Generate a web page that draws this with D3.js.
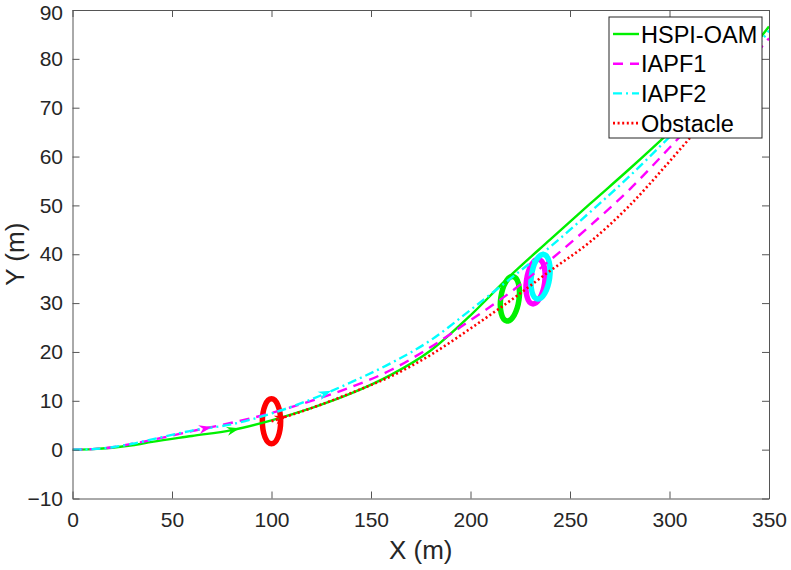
<!DOCTYPE html>
<html>
<head>
<meta charset="utf-8">
<script src="https://cdn.jsdelivr.net/npm/d3@7"></script>
<style>
  body { margin: 0; background: #fff; }
  svg { display: block; font-family: "Liberation Sans", Arial, Helvetica, sans-serif; }
</style>
</head>
<body>
<div id="chart"></div>
<script>
// sampled trajectories (x in m)
const xGrid = [0, 10, 20, 30, 40, 60, 80, 100, 120, 140, 160, 180, 200, 220, 240, 260, 280, 300, 320, 340, 350];
const hspiY = [0, 0.1, 0.4, 0.9, 1.6, 2.8, 4.0, 6.0, 8.5, 11.5, 15.3, 20.3, 27.5, 35.6, 43.0, 50.3, 57.5, 65.0, 73.0, 81.5, 86.6];
const iapf1Y = [0, 0.1, 0.5, 1.2, 2.0, 3.8, 5.5, 7.5, 10.0, 12.8, 16.3, 21.0, 26.5, 32.2, 38.8, 45.8, 53.3, 61.8, 70.5, 79.5, 84.2];
const iapf2Y = [0, 0.1, 0.5, 1.2, 2.1, 3.9, 5.2, 7.4, 10.3, 13.8, 17.7, 22.4, 28.6, 35.0, 41.5, 48.6, 56.0, 64.0, 72.0, 80.5, 85.8];

const obstacleX = [100, 120, 140, 160, 180, 200, 220, 240, 260, 280, 300, 320, 330];
const obstacleY = [5.8, 8.5, 11.6, 15.0, 19.4, 24.8, 30.5, 36.6, 42.5, 50.0, 59.0, 68.5, 73.5];

const seriesNames = ["HSPI-OAM", "IAPF1", "IAPF2", "Obstacle"];
const seriesColors = ["#00f000", "#ff00ff", "#00ffff", "#ff0000"];
const seriesDash = [null, "10,7", "9,4,2,4", "2,2.6"];

// obstacle snapshots (ellipses)
const ellipseX = [100, 219.8, 232.7, 235.2];
const ellipseY = [5.8, 30.9, 34.4, 35.4];
const ellipseColors = ["#ff0000", "#00f000", "#ff00ff", "#00ffff"];
const ellipseTilt = [0, 8, 8, 8];
const ellipseR = 4.6;

// direction arrows: which series, at which x
const arrowSeries = [0, 1, 2, 3];
const arrowX = [84, 70, 130, 108];

const xTicks = [0, 50, 100, 150, 200, 250, 300, 350];
const yTicks = [-10, 0, 10, 20, 30, 40, 50, 60, 70, 80, 90];

function buildChart() {
  const width = 791;
  const height = 570;
  const margin = { left: 72.5, right: 22, top: 10, bottom: 71.5 };
  const visWidth = width - margin.left - margin.right;
  const visHeight = height - margin.top - margin.bottom;

  const svg = d3.select("#chart").append("svg")
    .attr("width", width)
    .attr("height", height);

  const xScale = d3.scaleLinear().domain([0, 350]).range([0, visWidth]);
  const yScale = d3.scaleLinear().domain([-10, 90]).range([visHeight, 0]);

  const g = svg.append("g")
    .attr("transform", `translate(${margin.left},${margin.top})`);

  svg.append("defs").append("clipPath").attr("id", "plotclip")
    .append("rect").attr("width", visWidth).attr("height", visHeight);

  const plot = g.append("g").attr("clip-path", "url(#plotclip)");

  // ellipses
  const rx = xScale(ellipseR) - xScale(0);
  const ry = yScale(0) - yScale(ellipseR);
  ellipseX.forEach((cx, i) => {
    plot.append("ellipse")
      .attr("transform", `translate(${xScale(cx)},${yScale(ellipseY[i])}) rotate(${ellipseTilt[i]})`)
      .attr("rx", rx)
      .attr("ry", ry)
      .attr("fill", "none")
      .attr("stroke", ellipseColors[i])
      .attr("stroke-width", 5.5);
  });

  const seriesData = [
    xGrid.map((x, i) => [x, hspiY[i]]),
    xGrid.map((x, i) => [x, iapf1Y[i]]),
    xGrid.map((x, i) => [x, iapf2Y[i]]),
    obstacleX.map((x, i) => [x, obstacleY[i]])
  ];

  const line = d3.line()
    .x((d) => xScale(d[0]))
    .y((d) => yScale(d[1]))
    .curve(d3.curveMonotoneX);

  seriesData.forEach((data, i) => {
    plot.append("path")
      .datum(data)
      .attr("d", line)
      .attr("fill", "none")
      .attr("stroke", seriesColors[i])
      .attr("stroke-width", i === 3 ? 2.6 : 2.4)
      .attr("stroke-dasharray", seriesDash[i]);
  });

  // arrow heads along the paths
  arrowSeries.forEach((s, i) => {
    const data = seriesData[s];
    const ax = arrowX[i];
    let k = data.findIndex((d) => d[0] > ax);
    const p0 = data[k - 1], p1 = data[k];
    const t = (ax - p0[0]) / (p1[0] - p0[0]);
    const ay = p0[1] + t * (p1[1] - p0[1]);
    const dx = xScale(p1[0]) - xScale(p0[0]);
    const dy = yScale(p1[1]) - yScale(p0[1]);
    const ang = Math.atan2(dy, dx) * 180 / Math.PI;
    plot.append("path")
      .attr("d", "M0,0 L-13,-4.5 L-9,0 L-13,4.5 Z")
      .attr("transform", `translate(${xScale(ax)},${yScale(ay)}) rotate(${ang})`)
      .attr("fill", seriesColors[s]);
  });

  const axisColor = "#262626";
  const axisStroke = "#555";

  // bottom axis
  const xAxis = d3.axisBottom(xScale).tickValues(xTicks)
    .tickSizeInner(-7).tickSizeOuter(0).tickPadding(14);
  const gx = g.append("g")
    .attr("transform", `translate(0,${visHeight})`)
    .call(xAxis);

  // left axis
  const yAxis = d3.axisLeft(yScale).tickValues(yTicks)
    .tickSizeInner(-7).tickSizeOuter(0).tickPadding(9.5);
  const gy = g.append("g").call(yAxis);

  // top and right (box)
  const gt = g.append("g")
    .call(d3.axisTop(xScale).tickValues(xTicks).tickSizeInner(-7).tickSizeOuter(0).tickFormat(""));
  const gr = g.append("g")
    .attr("transform", `translate(${visWidth},0)`)
    .call(d3.axisRight(yScale).tickValues(yTicks).tickSizeInner(-7).tickSizeOuter(0).tickFormat(""));

  [gx, gy, gt, gr].forEach((ax) => {
    ax.select(".domain").attr("stroke", axisStroke).attr("stroke-width", 1);
    ax.selectAll(".tick line").attr("stroke", axisStroke).attr("stroke-width", 1);
    ax.selectAll(".tick text")
      .attr("fill", axisColor)
      .style("font-size", "21px")
      .style("font-family", "'Liberation Sans', Arial, sans-serif");
  });

  // keep the top label inside the page
  gy.selectAll(".tick text").filter((d) => d === 90).attr("y", 2.5);

  // axis labels
  svg.append("text")
    .attr("x", margin.left + visWidth / 2)
    .attr("y", 559)
    .attr("text-anchor", "middle")
    .attr("fill", axisColor)
    .style("font-size", "26px")
    .text("X (m)");

  svg.append("text")
    .attr("transform", `translate(24,${margin.top + visHeight / 2}) rotate(-90)`)
    .attr("text-anchor", "middle")
    .attr("fill", axisColor)
    .style("font-size", "26px")
    .text("Y (m)");

  // legend
  const legend = svg.append("g").attr("transform", "translate(609,17)");
  legend.append("rect")
    .attr("width", 153)
    .attr("height", 121)
    .attr("fill", "#fff")
    .attr("stroke", "#262626")
    .attr("stroke-width", 1);

  seriesNames.forEach((name, i) => {
    const yy = 17 + i * 29.7;
    legend.append("line")
      .attr("x1", 4).attr("x2", 30)
      .attr("y1", yy).attr("y2", yy)
      .attr("stroke", seriesColors[i])
      .attr("stroke-width", i === 3 ? 2.6 : 2.4)
      .attr("stroke-dasharray", seriesDash[i]);
    legend.append("text")
      .attr("x", 32)
      .attr("y", yy + 8.5)
      .attr("fill", "#000")
      .style("font-size", "23.5px")
      .text(name);
  });
}

window.onload = buildChart;
</script>
</body>
</html>
